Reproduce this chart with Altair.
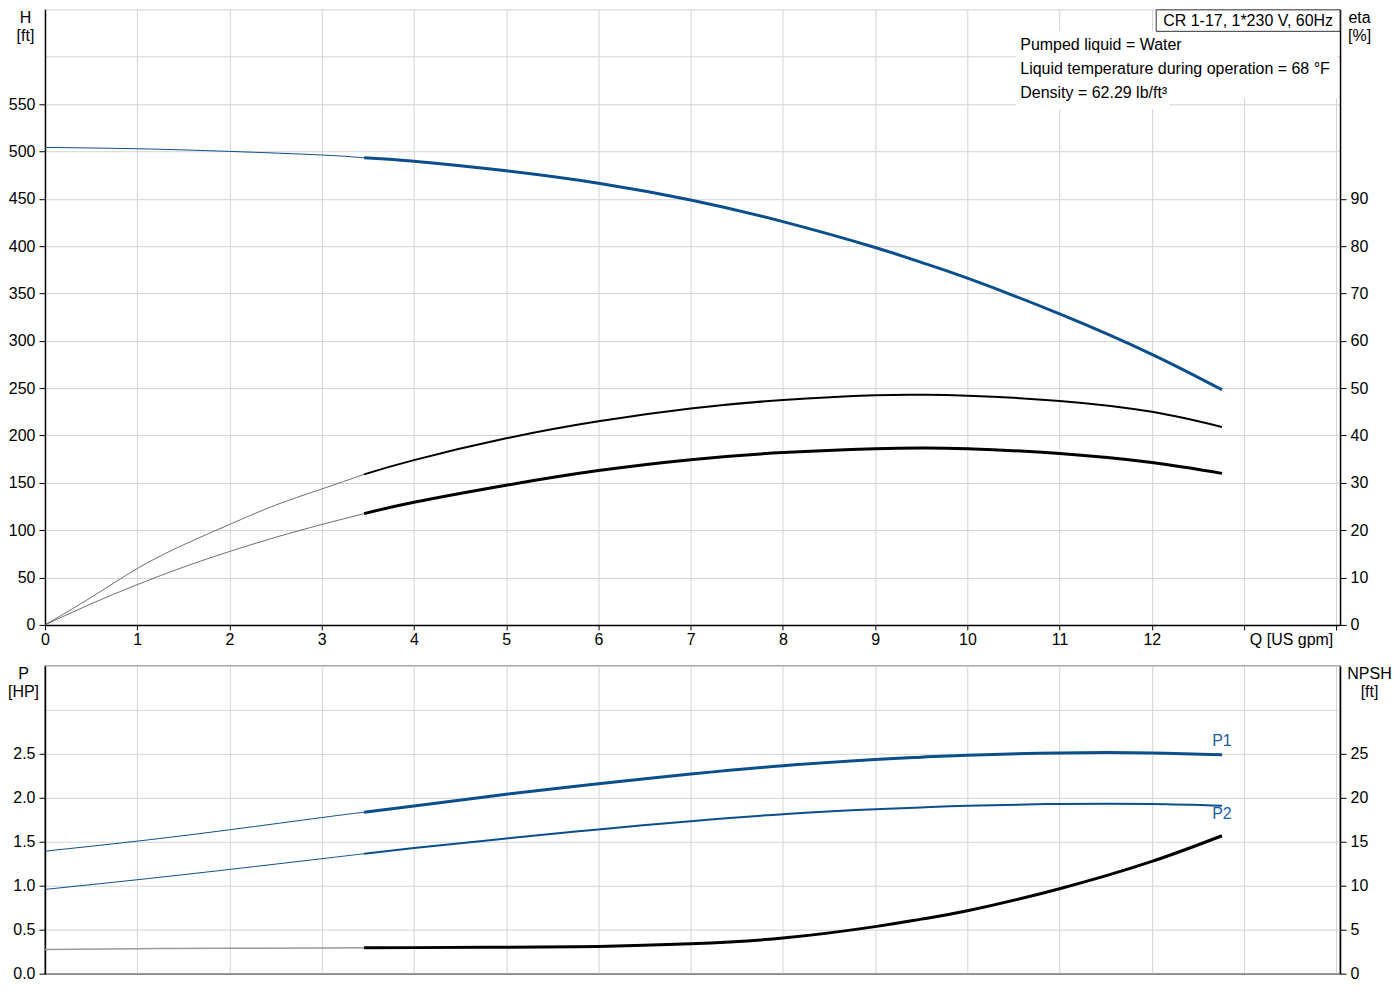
import altair as alt
import pandas as pd

# ---------------- data ----------------
Q_FINE = [0, 0.5, 1, 1.5, 2, 2.5, 3, 3.46]
Q_COARSE = [0, 1, 2, 3, 3.46]
Q_MAIN = [3.46, 4, 5, 6, 7, 8, 9, 9.5, 10, 11, 12, 12.76]

H_THIN = [504.2, 502.8, 500.0, 496.2, 493.2]
H_MAIN = [493.2, 489.6, 479.5, 466.4, 448.7, 425.8, 398.5, 382.8, 366.1, 328.4, 285.7, 248.3]

ETA_THIN = [0, 5.8, 11.9, 16.9, 21.2, 25.3, 28.7, 31.8]
ETA_MAIN = [31.8, 34.8, 39.4, 43.0, 45.7, 47.5, 48.5, 48.6, 48.4, 47.3, 45.0, 41.8]
ETA_TOT_THIN = [0, 4.45, 8.5, 12.2, 15.5, 18.5, 21.2, 23.5]
ETA_TOT_MAIN = [23.5, 25.9, 29.5, 32.6, 34.9, 36.4, 37.2, 37.35, 37.2, 36.2, 34.3, 32.0]

P1_THIN = [1.393, 1.507, 1.636, 1.775, 1.836]
P1_MAIN = [1.836, 1.907, 2.04, 2.16, 2.27, 2.365, 2.435, 2.462, 2.485, 2.51, 2.51, 2.49]
P2_THIN = [0.958, 1.068, 1.185, 1.307, 1.364]
P2_MAIN = [1.364, 1.428, 1.537, 1.64, 1.734, 1.814, 1.87, 1.89, 1.91, 1.93, 1.93, 1.91]
NPSH_THIN = [2.76, 2.84, 2.875, 2.91, 2.95]
NPSH_MAIN = [2.95, 2.96, 3.0, 3.1, 3.4, 4.05, 5.35, 6.2, 7.15, 9.66, 12.76, 15.68]

Q_TICKS = list(range(0, 15))
Q_LABEL_MAX = 12
H_TICKS = list(range(0, 651, 50))
H_LABEL_MAX = 550
ETA_TICKS = list(range(0, 91, 10))
P_TICKS = [0, 0.5, 1.0, 1.5, 2.0, 2.5, 3.0, 3.5]
P_LABEL_MAX = 2.5
NPSH_TICKS = [0, 5, 10, 15, 20, 25]

PUMP_TITLE = "CR 1-17, 1*230 V, 60Hz"
INFO_LINES = [
    "Pumped liquid = Water",
    "Liquid temperature during operation = 68 °F",
    "Density = 62.29 lb/ft³",
]
CURVE_LABELS = ["P1", "P2"]

# ---------------- styles ----------------
FONT = "Liberation Sans"
BLUE = "#0b4e8c"
LABEL_BLUE = "#1c5f9f"
GRID = "#d3d3d3"
FRAME = "#8c8c8c"

STYLE = {
    "H": {"thin": (BLUE, 1.0), "main": (BLUE, 3.0)},
    "eta": {"thin": ("#4a4a4a", 0.8), "main": ("black", 2.0)},
    "eta_tot": {"thin": ("#4a4a4a", 0.8), "main": ("black", 3.0)},
    "P1": {"thin": (BLUE, 1.0), "main": (BLUE, 3.0)},
    "P2": {"thin": (BLUE, 1.0), "main": (BLUE, 2.0)},
    "NPSH": {"thin": ("#9a9a9a", 1.5), "main": ("black", 3.0)},
}


def frame(series, q_thin, v_thin, q_main, v_main):
    rows = []
    for part, qs, vs in (("thin", q_thin, v_thin), ("main", q_main, v_main)):
        col, w = STYLE[series][part]
        for q, v in zip(qs, vs):
            rows.append({"Q": q, "v": v, "key": f"{series}-{part}", "col": col, "w": w})
    return pd.DataFrame(rows)


df_H = frame("H", Q_COARSE, H_THIN, Q_MAIN, H_MAIN)
df_eta = pd.concat([
    frame("eta", Q_FINE, ETA_THIN, Q_MAIN, ETA_MAIN),
    frame("eta_tot", Q_FINE, ETA_TOT_THIN, Q_MAIN, ETA_TOT_MAIN),
])
df_P = pd.concat([
    frame("P1", Q_COARSE, P1_THIN, Q_MAIN, P1_MAIN),
    frame("P2", Q_COARSE, P2_THIN, Q_MAIN, P2_MAIN),
])
df_N = frame("NPSH", Q_COARSE, NPSH_THIN, Q_MAIN, NPSH_MAIN)
df_lab1 = pd.DataFrame({"Q": [Q_MAIN[-1]], "v": [P1_MAIN[-1]], "t": [CURVE_LABELS[0]]})
df_lab2 = pd.DataFrame({"Q": [Q_MAIN[-1]], "v": [P2_MAIN[-1]], "t": [CURVE_LABELS[1]]})
anchor = pd.DataFrame({"k": [0]})

W = 1296
H_TOP = 616
H_BOT = 308

xs = alt.Scale(domain=[0, 14.04], nice=False, zero=False)


def hide_above(limit, fmt=None):
    lab = f"format(datum.value, '{fmt}')" if fmt else "datum.label"
    return f"datum.value > {limit} ? '' : {lab}"


def tick_op(limit):
    return {"condition": {"test": f"datum.value > {limit}", "value": 0}, "value": 1}


x_axis_top = alt.Axis(
    values=Q_TICKS, grid=True, gridColor=GRID, tickSize=5, tickColor="black",
    domainColor="black", domainWidth=1.5, labelFlush=False, labelPadding=2,
    labelExpr=hide_above(Q_LABEL_MAX),
    title="Q [US gpm]", titleX=1247, titleY=7, titleAlign="center", titleBaseline="top",
)
x_axis_bot = alt.Axis(
    values=Q_TICKS, grid=True, gridColor=GRID, ticks=False, labels=False,
    domainColor=FRAME, domainWidth=1.5, title=None,
)

y_axis_H = alt.Axis(
    orient="left", values=H_TICKS, grid=True, gridColor=GRID, tickSize=6, tickColor="black",
    tickOpacity=tick_op(H_LABEL_MAX), labelExpr=hide_above(H_LABEL_MAX), labelPadding=4,
    domainColor="black", domainWidth=1.5,
    title=["H", "[ft]"], titleX=-20, titleY=0, titleAngle=0, titleAlign="center",
    titleBaseline="top", titleLineHeight=18,
)
y_axis_eta = alt.Axis(
    orient="right", values=ETA_TICKS, grid=False, tickSize=6, tickColor="black", labelPadding=4,
    domainColor="black", domainWidth=1.5,
    title=["eta", "[%]"], titleX=19, titleY=0, titleAngle=0, titleAlign="center",
    titleBaseline="top", titleLineHeight=18,
)
y_axis_P = alt.Axis(
    orient="left", values=P_TICKS, grid=True, gridColor=GRID, tickSize=6, tickColor="black",
    tickOpacity=tick_op(P_LABEL_MAX), labelExpr=hide_above(P_LABEL_MAX, ".1f"), labelPadding=4,
    domainColor="black", domainWidth=1.5,
    title=["P", "[HP]"], titleX=-22, titleY=0, titleAngle=0, titleAlign="center",
    titleBaseline="top", titleLineHeight=18,
)
y_axis_N = alt.Axis(
    orient="right", values=NPSH_TICKS, grid=False, tickSize=6, tickColor="black", labelPadding=4,
    domainColor="black", domainWidth=1.5,
    title=["NPSH", "[ft]"], titleX=29, titleY=0, titleAngle=0, titleAlign="center",
    titleBaseline="top", titleLineHeight=18,
)


def curves(df, x_axis, y_enc):
    return alt.Chart(df).mark_line(interpolate="natural").encode(
        x=alt.X("Q:Q", scale=xs, axis=x_axis),
        y=y_enc,
        detail="key:N",
        color=alt.Color("col:N", scale=None),
        strokeWidth=alt.StrokeWidth("w:Q", scale=None),
    )


# ---------------- top panel ----------------
yH = alt.Y("v:Q", scale=alt.Scale(domain=[0, 650], nice=False), axis=y_axis_H)
yE = alt.Y("v:Q", scale=alt.Scale(domain=[0, 130], nice=False), axis=y_axis_eta)

h_line = curves(df_H, x_axis_top, yH)
eta_lines = curves(df_eta, x_axis_top, yE)

info_bg = alt.Chart(anchor).mark_rect(color="white").encode(
    x=alt.value(972), x2=alt.value(1293), y=alt.value(22), y2=alt.value(89))
info_bg2 = alt.Chart(anchor).mark_rect(color="white").encode(
    x=alt.value(972), x2=alt.value(1125), y=alt.value(22), y2=alt.value(100))
info_texts = [
    alt.Chart(anchor).mark_text(align="left", baseline="middle", font=FONT, fontSize=16,
                                color="black").encode(
        x=alt.value(976), y=alt.value(36 + 24 * i), text=alt.value(line))
    for i, line in enumerate(INFO_LINES)
]
title_box = alt.Chart(anchor).mark_rect(fill="white", stroke="#333333", strokeWidth=1).encode(
    x=alt.value(1112), x2=alt.value(1296), y=alt.value(0.5), y2=alt.value(22))
title_text = alt.Chart(anchor).mark_text(align="right", baseline="middle", font=FONT,
                                         fontSize=16, color="black").encode(
    x=alt.value(1289), y=alt.value(11.5), text=alt.value(PUMP_TITLE))

top = alt.layer(
    h_line, eta_lines, info_bg, info_bg2, *info_texts, title_box, title_text
).resolve_scale(y="independent").properties(
    width=W, height=H_TOP, view=alt.ViewBackground(stroke="transparent"))

# ---------------- bottom panel ----------------
yP = alt.Y("v:Q", scale=alt.Scale(domain=[0, 3.5], nice=False), axis=y_axis_P)
yN = alt.Y("v:Q", scale=alt.Scale(domain=[0, 35], nice=False), axis=y_axis_N)

p_lines = curves(df_P, x_axis_bot, yP)
p1_lab = alt.Chart(df_lab1).mark_text(font=FONT, fontSize=16, color=LABEL_BLUE, dy=-14).encode(
    x=alt.X("Q:Q", scale=xs, axis=x_axis_bot), y=yP, text="t:N")
p2_lab = alt.Chart(df_lab2).mark_text(font=FONT, fontSize=16, color=LABEL_BLUE, dy=8).encode(
    x=alt.X("Q:Q", scale=xs, axis=x_axis_bot), y=yP, text="t:N")
npsh_line = curves(df_N, x_axis_bot, yN)

bottom = alt.layer(
    alt.layer(p_lines, p1_lab, p2_lab), npsh_line
).resolve_scale(y="independent").properties(
    width=W, height=H_BOT, view=alt.ViewBackground(stroke=FRAME, strokeWidth=1.5))

chart = alt.vconcat(top, bottom, spacing=41, bounds="flush").properties(
    padding={"left": -2, "top": 0, "right": 0, "bottom": 0}, background="white"
).configure_axis(
    labelFont=FONT, labelFontSize=16, labelColor="black",
    titleFont=FONT, titleFontSize=16, titleFontWeight="normal", titleColor="black",
)

chart.save("out.html", embed_options={"renderer": "svg", "actions": False})
